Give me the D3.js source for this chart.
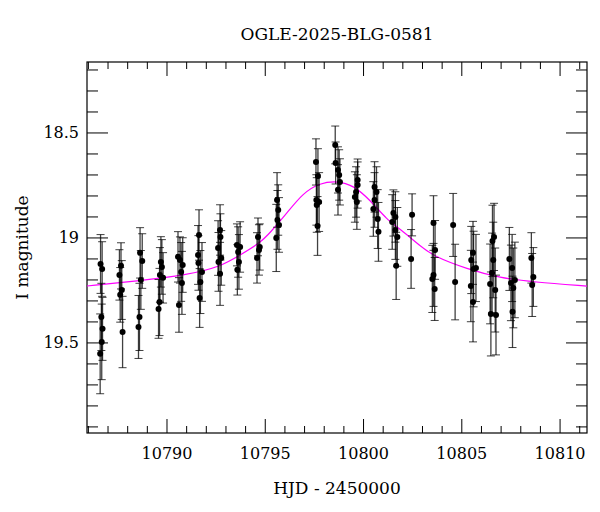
<!DOCTYPE html>
<html><head><meta charset="utf-8">
<script src="https://cdn.jsdelivr.net/npm/d3@7"></script>
<style>body{margin:0;background:#fff}text{font-family:"DejaVu Serif",serif;fill:#000}</style>
</head><body><svg id="c" width="600" height="512"></svg>
<script>
const title = "OGLE-2025-BLG-0581";
const hjd = [
10786.62,10786.70,10786.66,10786.72,10786.68,10786.60,
10787.66,10787.58,10787.70,10787.62,10787.74,
10788.63,10788.74,10788.67,10788.60,10788.55,
10789.69,10789.74,10789.64,10789.80,10789.62,10789.57,
10790.56,10790.66,10790.80,10790.72,10790.76,10790.61,
10791.63,10791.58,10791.60,10791.78,10791.70,10791.66,
10792.70,10792.72,10792.60,10792.76,10792.62,10792.70,
10793.56,10793.72,10793.62,10793.66,10793.58,
10794.63,10794.72,10794.68,10794.58,
10795.60,10795.66,10795.62,10795.70,10795.56,
10797.58,10797.68,10797.60,10797.74,10797.62,10797.66,
10798.56,10798.58,10798.70,10798.76,10798.80,10798.70,
10799.70,10799.70,10799.62,10799.56,10799.66,
10800.56,10800.66,10800.56,10800.50,10800.72,10800.76,
10801.52,10801.62,10801.46,10801.62,10801.72,10801.66,
10802.47,10802.42,
10803.56,10803.64,10803.56,10803.50,10803.62,
10804.56,10804.66,
10805.57,10805.48,10805.72,10805.60,10805.46,10805.57,
10806.64,10806.56,10806.60,10806.54,10806.44,10806.70,10806.48,10806.74,
10807.42,10807.56,10807.70,10807.50,10807.62,10807.58,
10808.54,10808.64,10808.58];
const mag = [
19.124,19.148,19.376,19.433,19.495,19.552,
19.133,19.176,19.248,19.271,19.448,
19.071,19.110,19.200,19.376,19.424,
19.114,19.138,19.176,19.190,19.305,19.338,
19.090,19.105,19.129,19.162,19.214,19.319,
18.986,19.081,19.119,19.162,19.210,19.286,
18.962,18.995,19.048,19.095,19.114,19.171,
19.033,19.043,19.067,19.114,19.152,
18.995,19.043,19.057,19.095,
18.819,18.867,18.914,18.938,19.000,
18.638,18.705,18.819,18.829,18.843,18.943,
18.557,18.643,18.676,18.700,18.733,18.771,
18.724,18.748,18.781,18.805,18.829,
18.757,18.781,18.819,18.862,18.910,18.971,
18.881,18.900,18.924,18.962,18.995,19.133,
18.890,19.100,
18.929,19.057,19.176,19.195,19.243,
18.938,19.210,
19.071,19.105,19.143,19.148,19.229,19.305,
18.995,19.014,19.105,19.167,19.219,19.248,19.362,19.367,
19.100,19.143,19.200,19.214,19.238,19.352,
19.095,19.186,19.224];
const err = [
0.14,0.13,0.16,0.15,0.18,0.19,
0.11,0.12,0.14,0.13,0.17,
0.12,0.13,0.14,0.16,0.15,
0.12,0.13,0.13,0.12,0.16,0.14,
0.12,0.11,0.13,0.14,0.15,0.13,
0.12,0.14,0.13,0.14,0.15,0.14,
0.12,0.11,0.13,0.13,0.14,0.15,
0.10,0.12,0.12,0.13,0.12,
0.09,0.11,0.12,0.12,
0.13,0.12,0.14,0.13,0.16,
0.11,0.13,0.12,0.14,0.13,0.14,
0.09,0.10,0.11,0.12,0.11,0.12,
0.10,0.11,0.12,0.12,0.13,
0.12,0.12,0.13,0.13,0.14,0.14,
0.11,0.12,0.13,0.14,0.14,0.16,
0.10,0.14,
0.13,0.14,0.15,0.16,0.15,
0.15,0.18,
0.15,0.16,0.16,0.18,0.17,0.19,
0.16,0.17,0.18,0.19,0.19,0.20,0.20,0.19,
0.15,0.16,0.18,0.18,0.19,0.17,
0.12,0.14,0.15];
const modelT = [10785.93,10788.47,10791.02,10792.70,10793.72,10794.73,10795.24,10796.11,10796.92,10797.79,10798.65,10799.47,10800.33,10801.20,10801.86,10802.88,10803.54,10805.27,10806.95,10808.63,10811.37];
const modelM = [19.229,19.205,19.176,19.138,19.081,19.024,18.976,18.881,18.786,18.738,18.729,18.748,18.819,18.914,18.957,19.038,19.086,19.148,19.190,19.210,19.229];
const xTickLabels = [10790,10795,10800,10805,10810];
const yTickLabels = [18.5,19,19.5];

const svg = d3.select("#c");
const L=87,R=587,T=62,B=433;
const x = d3.scaleLinear().domain([10785.93,10811.37]).range([L,R]);
const y = d3.scaleLinear().domain([18.162,19.929]).range([T,B]);
const g = svg.append("g");
const minorX = d3.range(10786,10812,1), minorY = d3.range(18.2,19.95,0.1);
function tickSet(vals,major,isX,len,minLen){
  vals.forEach(v=>{
    const isMaj = major(v), l = isMaj?len:minLen;
    if(isX){const p=x(v);
      g.append("line").attr("x1",p).attr("x2",p).attr("y1",B).attr("y2",B-l).attr("stroke","#000");
      g.append("line").attr("x1",p).attr("x2",p).attr("y1",T).attr("y2",T+l).attr("stroke","#000");
    } else {const p=y(v);
      g.append("line").attr("y1",p).attr("y2",p).attr("x1",L).attr("x2",L+l).attr("stroke","#000");
      g.append("line").attr("y1",p).attr("y2",p).attr("x1",R).attr("x2",R-l).attr("stroke","#000");
    }
  });
}
tickSet(minorX,v=>Math.round(v)%5===0,true,14,7);
tickSet(minorY,v=>Math.abs(Math.round(v*10)%5)===0,false,21,11);
xTickLabels.forEach(v=>svg.append("text").attr("x",x(v)).attr("y",B+26).attr("text-anchor","middle").attr("font-size",16).text(v));
yTickLabels.forEach(v=>svg.append("text").attr("x",L-8).attr("y",y(v)+5).attr("text-anchor","end").attr("font-size",16).text(v));
svg.append("rect").attr("x",L).attr("y",T).attr("width",R-L).attr("height",B-T).attr("fill","none").attr("stroke","#000").attr("stroke-width",1.2);

svg.append("clipPath").attr("id","cl").append("rect").attr("x",L).attr("y",T).attr("width",R-L).attr("height",B-T);
const line = d3.line().x((d,i)=>x(modelT[i])).y((d,i)=>y(modelM[i])).curve(d3.curveBasis);
svg.append("path").datum(modelT).attr("d",line).attr("fill","none").attr("stroke","#ff00ff").attr("stroke-width",1.2).attr("clip-path","url(#cl)");

const pts = svg.append("g").attr("clip-path","url(#cl)");
hjd.forEach((t,i)=>{
  const px=x(t), y1=y(mag[i]-err[i]), y2=y(mag[i]+err[i]);
  pts.append("line").attr("x1",px).attr("x2",px).attr("y1",y1).attr("y2",y2).attr("stroke","#000").attr("stroke-opacity",0.75).attr("stroke-width",1.3);
  [y1,y2].forEach(yy=>pts.append("line").attr("x1",px-4).attr("x2",px+4).attr("y1",yy).attr("y2",yy).attr("stroke","#000").attr("stroke-opacity",0.75));
  pts.append("circle").attr("cx",px).attr("cy",y(mag[i])).attr("r",3).attr("fill","#000");
});

svg.append("text").attr("x",(L+R)/2).attr("y",40).attr("text-anchor","middle").attr("font-size",17).text(title);
svg.append("text").attr("x",(L+R)/2).attr("y",494).attr("text-anchor","middle").attr("font-size",17).text("HJD - 2450000");
svg.append("text").attr("transform",`translate(28,${(T+B)/2}) rotate(-90)`).attr("text-anchor","middle").attr("font-size",17).text("I magnitude");
</script></body></html>
